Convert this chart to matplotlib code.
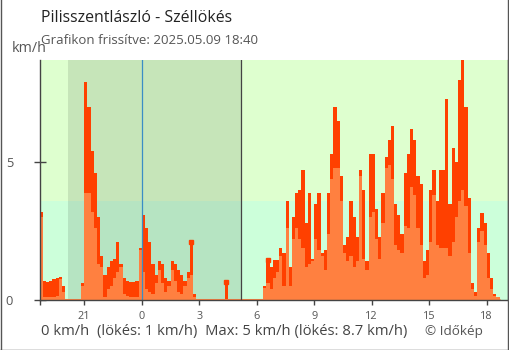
import numpy as np
import matplotlib.pyplot as plt
from matplotlib.lines import Line2D

plt.rcParams['font.family'] = ['Open Sans', 'DejaVu Sans']

# 10 perces adatok, 18:40 (elozo nap) -> 18:40, ora a ejfelhez kepest
t_start = -16 / 3
lokes = [3.2, 0.7, 0.65, 0.7, 0.75, 0.8, 0.85, 0.5, 0, 0,
         0, 0, 0, 0.6, 7.9, 7.0, 5.4, 4.6, 3.0, 1.6,
         0.9, 1.2, 1.4, 1.5, 2.1, 1.3, 0.8, 0.7, 0.65, 0.65,
         0.7, 1.9, 3.1, 2.6, 2.1, 1.3, 0.9, 1.4, 1.3, 0.8,
         0.7, 1.4, 1.3, 1.1, 0.9, 0.7, 1.0, 2.1, 0.2, 0,
         0, 0, 0, 0, 0, 0, 0, 0, 0.65, 0,
         0, 0, 0, 0, 0, 0, 0, 0, 0, 0,
         0.5, 1.45, 1.2, 1.45, 1.45, 1.9, 1.7, 3.6, 1.2, 3.0,
         3.9, 4.0, 4.7, 2.8, 3.9, 1.5, 3.5, 3.9, 1.7, 1.8,
         3.9, 5.3, 7.0, 6.5, 4.5, 2.0, 2.3, 3.6, 3.0, 2.3,
         4.7, 4.0, 1.4, 5.3, 5.3, 3.3, 2.3, 3.9, 5.2, 5.8,
         6.3, 3.5, 3.1, 2.4, 4.6, 5.3, 6.2, 5.8, 4.5, 4.2,
         1.4, 1.8, 4.0, 4.7, 3.6, 4.7, 4.7, 7.3, 3.5, 5.5,
         5.0, 8.0, 8.7, 7.0, 3.7, 0.6, 0.3, 2.6, 3.15, 2.8,
         1.7, 0.8, 0.2, 0.1]
szel = [3.0, 0.1, 0.1, 0.1, 0.1, 0.15, 0.75, 0.3, 0, 0,
        0, 0, 0, 0.5, 3.9, 3.9, 3.2, 2.6, 1.3, 1.2,
        0.1, 0.4, 0.5, 0.8, 1.0, 1.2, 0.2, 0.15, 0.1, 0.1,
        0.1, 1.8, 1.0, 0.4, 0.3, 0.2, 0.6, 1.1, 0.6, 0.3,
        0.5, 1.1, 0.7, 0.3, 0.2, 0.5, 0.8, 0.9, 0.1, 0,
        0, 0, 0, 0, 0, 0, 0, 0, 0, 0,
        0, 0, 0, 0, 0, 0, 0, 0, 0, 0,
        0.45, 0.6, 0.4, 0.8, 1.0, 1.6, 0.5, 2.6, 0.5, 2.2,
        2.6, 2.2, 1.9, 1.2, 1.3, 1.4, 2.2, 1.8, 1.6, 1.1,
        2.4, 4.4, 4.8, 4.8, 3.6, 1.7, 1.4, 1.6, 1.2, 1.4,
        4.5, 1.5, 1.1, 3.0, 3.2, 2.2, 1.5, 2.8, 4.8, 4.9,
        4.4, 2.0, 1.8, 1.7, 2.7, 2.6, 4.1, 3.8, 2.6, 2.0,
        0.8, 0.9, 2.1, 3.8, 2.0, 1.9, 1.9, 1.9, 1.6, 2.1,
        3.0, 3.6, 4.0, 3.4, 1.7, 0.4, 0.15, 2.1, 2.5, 2.0,
        0.8, 0.4, 0.15, 0.1]
elszigetelt = [47, 58, 71]  # maganyos lokes ertekek (jelolovel)

naplemente = -3.84
napkelte = 5.2
hatar = 3.6
tick_ora = [-3, 0, 3, 6, 9, 12, 15, 18]
tick_cimke = ['21', '0', '3', '6', '9', '12', '15', '18']

piros = '#FF4000'
narancs = '#FF8040'

t = t_start + np.arange(len(lokes) + 1) / 6
g = np.append(lokes, lokes[-1])
w = np.append(szel, szel[-1])

fig = plt.figure(figsize=(5.1, 3.5), dpi=100)
ax = fig.add_axes([40 / 510, 50 / 350, 468 / 510, 240 / 350])
ax.set_xlim(-5.312, 19.11)
ax.set_ylim(0, 8.71)

ax.set_facecolor('#DEFFCF')
ax.axhspan(0, hatar, color='#CCFFDA', lw=0, zorder=0)
ax.axvspan(naplemente, napkelte, ymin=0, ymax=hatar / 8.71, color='#B6E4C2', lw=0, zorder=0)
ax.axvspan(naplemente, napkelte, ymin=hatar / 8.71, ymax=1, color='#C6E5B9', lw=0, zorder=0)

ax.fill_between(t, g, step='post', color=piros, lw=0, zorder=2)
ax.fill_between(t, w, step='post', color=narancs, lw=0, zorder=3)
ax.hlines(0, t[0], t[-1], color=narancs, lw=2.2, zorder=3)
ti = np.array(elszigetelt)
ax.plot(t[ti] + 1 / 12, np.array(lokes)[ti], 's', color=piros, ms=3, zorder=2)

ax.axvline(0, color='#3A8DC6', lw=0.9, zorder=4)
ax.axvline(napkelte, color='#444444', lw=0.9, zorder=4)

ax.set_xticks([ax.get_xlim()[0]] + tick_ora)
ax.set_xticklabels([''] + tick_cimke)
ax.set_yticks([0, 5])
ax.set_yticklabels(['0', '5'])
ax.tick_params(axis='x', direction='out', length=3.6, width=1, color='#444444',
               labelsize=7.8, labelcolor='#555555', pad=4.5)
ax.tick_params(axis='y', direction='inout', length=8.6, width=1, color='#444444',
               labelsize=9.3, labelcolor='#555555', pad=15)
for s in ['left', 'bottom', 'right']:
    ax.spines[s].set_color('#444444')
    ax.spines[s].set_linewidth(1)
ax.spines['top'].set_visible(False)
for s in ['left', 'bottom']:
    ax.spines[s].set_zorder(5)

fig.text(41 / 510, 1 - 18 / 350, 'Pilisszentlászló - Széllökés', fontsize=11.4,
         color='#222222', va='center', ha='left')
fig.text(41 / 510, 1 - 41 / 350, 'Grafikon frissítve: 2025.05.09 18:40', fontsize=9.5,
         color='#555555', va='center', ha='left')
fig.text(12 / 510, 1 - 49 / 350, 'km/h', fontsize=10.3, color='#555555', va='center', ha='left')
fig.text(41 / 510, 1 - 332 / 350, '0 km/h  (lökés: 1 km/h)  Max: 5 km/h (lökés: 8.7 km/h)',
         fontsize=10.6, color='#444444', va='center', ha='left')
fig.text(425 / 510, 1 - 331 / 350, '© Időkép', fontsize=9.7, color='#555555',
         va='center', ha='left')

# keret
for xy in [([0.5 / 510, 0.5 / 510], [0, 1]), ([508.5 / 510, 508.5 / 510], [0, 1]),
           ([0, 509 / 510], [0.5 / 350, 0.5 / 350])]:
    fig.add_artist(Line2D(xy[0], xy[1], transform=fig.transFigure, color='#555555', lw=1))

fig.savefig('out.png', dpi=100)
